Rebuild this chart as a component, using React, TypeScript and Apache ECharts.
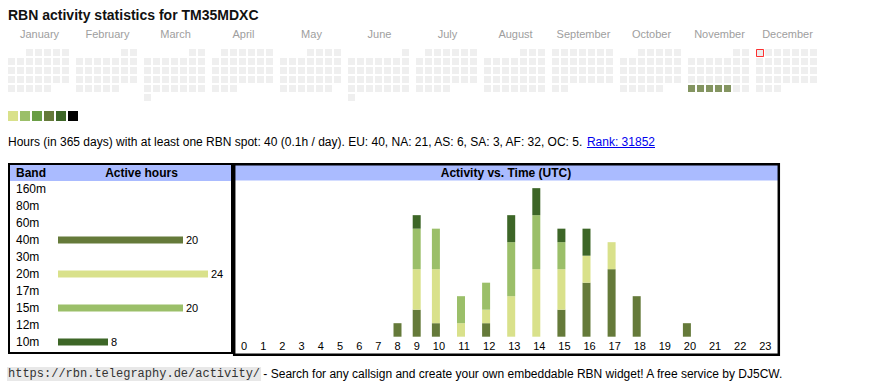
import React, { useEffect, useRef } from "react";
import * as echarts from "echarts";

// ---------- data ----------
const YEAR = 2025;
const monthNames = [
  "January", "February", "March", "April", "May", "June",
  "July", "August", "September", "October", "November", "December",
];
const levelColors = ["#d9e18b", "#9bbf69", "#6a9e46", "#657a3a", "#3d6627", "#000000"];
const emptyCellColor = "#ebebeb";
const activeDays = ["2025-11-24", "2025-11-25", "2025-11-26", "2025-11-27", "2025-11-28"];
const activeDayLevels = [4, 4, 4, 4, 4];
const todayDate = "2025-12-01";

const totalHours = 40;
const daysSpan = 365;
const continents = ["EU", "NA", "AS", "SA", "AF", "OC"];
const continentHours = [40, 21, 6, 3, 32, 5];
const rank = 31852;

const bands = ["160m", "80m", "60m", "40m", "30m", "20m", "17m", "15m", "12m", "10m"];
const bandHours = [0, 0, 0, 20, 0, 24, 0, 20, 0, 8];
const bandColors = ["#888888", "#888888", "#888888", "#657a3a", "#888888", "#d9e18b", "#888888", "#9bbf69", "#888888", "#3d6627"];

const hourLabels = [
  "0", "1", "2", "3", "4", "5", "6", "7", "8", "9", "10", "11",
  "12", "13", "14", "15", "16", "17", "18", "19", "20", "21", "22", "23",
];
const hourly40m = [0, 0, 0, 0, 0, 0, 0, 0, 1, 2, 1, 0, 1, 0, 0, 2, 4, 5, 3, 0, 1, 0, 0, 0];
const hourly20m = [0, 0, 0, 0, 0, 0, 0, 0, 0, 3, 4, 1, 1, 3, 5, 3, 2, 2, 0, 0, 0, 0, 0, 0];
const hourly15m = [0, 0, 0, 0, 0, 0, 0, 0, 0, 3, 3, 2, 2, 4, 4, 2, 0, 0, 0, 0, 0, 0, 0, 0];
const hourly10m = [0, 0, 0, 0, 0, 0, 0, 0, 0, 1, 0, 0, 0, 2, 2, 1, 2, 0, 0, 0, 0, 0, 0, 0];
const stackedBands = [
  { name: "40m", data: hourly40m, color: "#657a3a" },
  { name: "20m", data: hourly20m, color: "#d9e18b" },
  { name: "15m", data: hourly15m, color: "#9bbf69" },
  { name: "10m", data: hourly10m, color: "#3d6627" },
];

const urlText = "https://rbn.telegraphy.de/activity/";
const footerText = " - Search for any callsign and create your own embeddable RBN widget! A free service by DJ5CW.";

// ---------- layout constants ----------
const SANS = "'Liberation Sans', Arial, sans-serif";
const MONO = "'Liberation Mono', 'Courier New', monospace";
const MONTH_STRIDE = 68 / 9; // month block width in cell units
const CELL_CENTER = 3.5 / 9; // centre of a 7px cell within a 9px pitch
const HEADER_BG = "#aabbff";
const HOUR_BAR_W = 8;

const pad = (n: number) => (n < 10 ? "0" + n : "" + n);

function calendarData() {
  const cells: any[] = [];
  let today: any = null;
  for (let m = 0; m < 12; m++) {
    const first = new Date(Date.UTC(YEAR, m, 1));
    const offset = (first.getUTCDay() + 6) % 7;
    const nDays = new Date(Date.UTC(YEAR, m + 1, 0)).getUTCDate();
    for (let d = 1; d <= nDays; d++) {
      const idx = offset + d - 1;
      const col = idx % 7;
      const row = Math.floor(idx / 7);
      const key = `${YEAR}-${pad(m + 1)}-${pad(d)}`;
      const ai = activeDays.indexOf(key);
      const color = ai >= 0 ? levelColors[activeDayLevels[ai] - 1] : emptyCellColor;
      const item = { name: key, value: [m * MONTH_STRIDE + col + CELL_CENTER, row + CELL_CENTER], itemStyle: { color } };
      cells.push(item);
      if (key === todayDate) today = item;
    }
  }
  return { cells, today };
}

function measure(text: string, font: string) {
  const ctx = document.createElement("canvas").getContext("2d")!;
  ctx.font = font;
  return ctx.measureText(text).width;
}

export default function App() {
  const ref = useRef<HTMLDivElement>(null);

  useEffect(() => {
    if (!ref.current) return;
    const chart = echarts.init(ref.current, null, { renderer: "svg" });
    const { cells, today } = calendarData();

    // hour columns (table-like widths: two-digit columns wider)
    const colW = hourLabels.map((l) => (l.length > 1 ? 25.1 : 19.2));
    const colLeft: number[] = [];
    let acc = 0;
    colW.forEach((w) => {
      colLeft.push(acc);
      acc += w;
    });
    const totalW = acc;
    const labelX = colLeft.map((l, i) => l + colW[i] / 2);
    const barX = colLeft.map((l) => l + 9.5);

    // stacked segments: [x, base, value]
    const base = hourLabels.map(() => 0);
    const stackedSeries = stackedBands.map((b) => {
      const data = b.data.map((v, h) => {
        const item = [barX[h], base[h], v];
        base[h] += v;
        return item;
      });
      return {
        type: "custom", name: b.name, xAxisIndex: 2, yAxisIndex: 2, silent: true,
        encode: { x: 0, y: [1, 2] },
        renderItem: (_p: any, api: any) => {
          const x = api.value(0);
          const b0 = api.value(1);
          const v = api.value(2);
          if (!v) return null;
          const p0 = api.coord([x, b0]);
          const p1 = api.coord([x, b0 + v]);
          return {
            type: "rect",
            shape: { x: p0[0] - HOUR_BAR_W / 2, y: p1[1], width: HOUR_BAR_W, height: p0[1] - p1[1] },
            style: { fill: b.color },
          };
        },
        data,
      };
    });

    const statsText =
      `Hours (in ${daysSpan} days) with at least one RBN spot: ${totalHours} (${(totalHours / daysSpan).toFixed(1)}h / day). ` +
      continents.map((c, i) => `${c}: ${continentHours[i]}`).join(", ") +
      ". ";
    const rankText = `Rank: ${rank}`;
    const statsFont = `12px ${SANS}`;
    const statsW = measure(statsText, statsFont);
    const rankW = measure(rankText, statsFont);
    const urlFont = `12px ${MONO}`;
    const urlW = measure(urlText, urlFont);

    const graphics: any[] = [
      {
        type: "text", x: 8, y: 15,
        style: { text: "RBN activity statistics for TM35MDXC", fill: "#111", fontSize: 14, fontWeight: "bold", fontFamily: SANS, verticalAlign: "middle" },
      },
      ...levelColors.map((c, i) => ({
        type: "rect", shape: { x: 8 + i * 12, y: 111, width: 10, height: 10 }, style: { fill: c },
      })),
      {
        type: "text", x: 8, y: 141.5,
        style: { text: statsText, fill: "#000", fontSize: 12, fontFamily: SANS, verticalAlign: "middle" },
      },
      {
        type: "text", x: 8 + statsW, y: 141.5,
        style: { text: rankText, fill: "#0000ee", fontSize: 12, fontFamily: SANS, verticalAlign: "middle" },
      },
      {
        type: "line", shape: { x1: 8 + statsW, y1: 147.5, x2: 8 + statsW + rankW, y2: 147.5 },
        style: { stroke: "#0000ee", lineWidth: 1 },
      },
      // headers
      { type: "rect", z: 1, shape: { x: 9, y: 164, width: 223, height: 17 }, style: { fill: HEADER_BG } },
      { type: "rect", z: 1, shape: { x: 234, y: 165, width: 544, height: 15.5 }, style: { fill: HEADER_BG } },
      {
        type: "text", z: 3, x: 16, y: 173,
        style: { text: "Band", fill: "#000", fontSize: 12, fontWeight: "bold", fontFamily: SANS, verticalAlign: "middle" },
      },
      {
        type: "text", z: 3, x: 141.5, y: 173,
        style: { text: "Active hours", fill: "#000", fontSize: 12, fontWeight: "bold", fontFamily: SANS, align: "center", verticalAlign: "middle" },
      },
      {
        type: "text", z: 3, x: 506, y: 173,
        style: { text: "Activity vs. Time (UTC)", fill: "#000", fontSize: 12, fontWeight: "bold", fontFamily: SANS, align: "center", verticalAlign: "middle" },
      },
      // borders
      { type: "rect", z: 5, shape: { x: 9, y: 164, width: 223, height: 189 }, style: { fill: "none", stroke: "#000", lineWidth: 2 } },
      { type: "rect", z: 5, shape: { x: 234.2, y: 164.2, width: 544.6, height: 190.6 }, style: { fill: "none", stroke: "#000", lineWidth: 2.5 } },
      // footer
      { type: "rect", shape: { x: 7, y: 367, width: urlW + 2, height: 14 }, style: { fill: "#e8e8e8" } },
      {
        type: "text", z: 3, x: 8, y: 373.5,
        style: { text: urlText, fill: "#333", fontSize: 12, fontFamily: MONO, verticalAlign: "middle" },
      },
      {
        type: "text", z: 3, x: 8 + urlW, y: 373.5,
        style: { text: footerText, fill: "#000", fontSize: 12, fontFamily: SANS, verticalAlign: "middle" },
      },
    ];

    const option: any = {
      animation: false,
      backgroundColor: "#ffffff",
      textStyle: { fontFamily: SANS },
      grid: [
        { left: 8, top: 49, width: 12 * 68, height: 54 },
        { left: 58, top: 180.5, width: 150, height: 170 },
        { left: 234.4, top: 181.4, width: totalW, height: 155.3 },
      ],
      xAxis: [
        {
          gridIndex: 0, type: "value", position: "top", min: 0, max: 12 * MONTH_STRIDE,
          axisLine: { show: false }, axisTick: { show: false }, splitLine: { show: false },
          axisLabel: {
            customValues: monthNames.map((_, m) => m * MONTH_STRIDE + 3.5),
            formatter: (v: number) => monthNames[Math.round((v - 3.5) / MONTH_STRIDE)] || "",
            margin: 15, verticalAlign: "middle", fontSize: 11, color: "#9e9e9e", fontFamily: SANS,
          },
        },
        { gridIndex: 1, type: "value", min: 0, max: 24, show: false },
        {
          gridIndex: 2, type: "value", min: 0, max: totalW,
          axisLine: { show: false }, axisTick: { show: false }, splitLine: { show: false },
          axisLabel: {
            customValues: labelX,
            formatter: (v: number) => {
              let best = 0;
              labelX.forEach((x, i) => { if (Math.abs(x - v) < Math.abs(labelX[best] - v)) best = i; });
              return hourLabels[best];
            },
            margin: 9.5, verticalAlign: "middle", fontSize: 11, color: "#000", fontFamily: SANS,
          },
        },
      ],
      yAxis: [
        { gridIndex: 0, type: "value", min: 0, max: 6, inverse: true, show: false },
        {
          gridIndex: 1, type: "category", data: bands, inverse: true,
          axisLine: { show: false }, axisTick: { show: false }, splitLine: { show: false },
          axisLabel: { align: "left", margin: 42, fontSize: 12, color: "#000", fontFamily: SANS },
        },
        { gridIndex: 2, type: "value", min: 0, max: 11.5, show: false },
      ],
      series: [
        {
          type: "scatter", xAxisIndex: 0, yAxisIndex: 0, symbol: "rect", symbolSize: 7,
          silent: true, data: cells,
        },
        {
          type: "scatter", xAxisIndex: 0, yAxisIndex: 0, symbol: "rect", symbolSize: 7, z: 3,
          symbolOffset: [0.5, 0.5],
          silent: true,
          data: today ? [{ value: today.value, itemStyle: { color: today.itemStyle.color, borderColor: "#ff0000", borderWidth: 1 } }] : [],
        },
        {
          type: "bar", xAxisIndex: 1, yAxisIndex: 1, barWidth: 7, silent: true,
          data: bandHours.map((v, i) => ({ value: v, itemStyle: { color: bandColors[i] } })),
          label: {
            show: true, position: "right", distance: 3, fontSize: 11, color: "#000", fontFamily: SANS,
            formatter: (p: any) => (p.value > 0 ? String(p.value) : ""),
          },
        },
        ...stackedSeries,
      ],
      graphic: { elements: graphics },
    };

    chart.setOption(option);
    return () => chart.dispose();
  }, []);

  return (
    <div
      ref={ref}
      style={{ position: "absolute", left: 0, top: 0, width: 870, height: 390, background: "#fff" }}
    />
  );
}
